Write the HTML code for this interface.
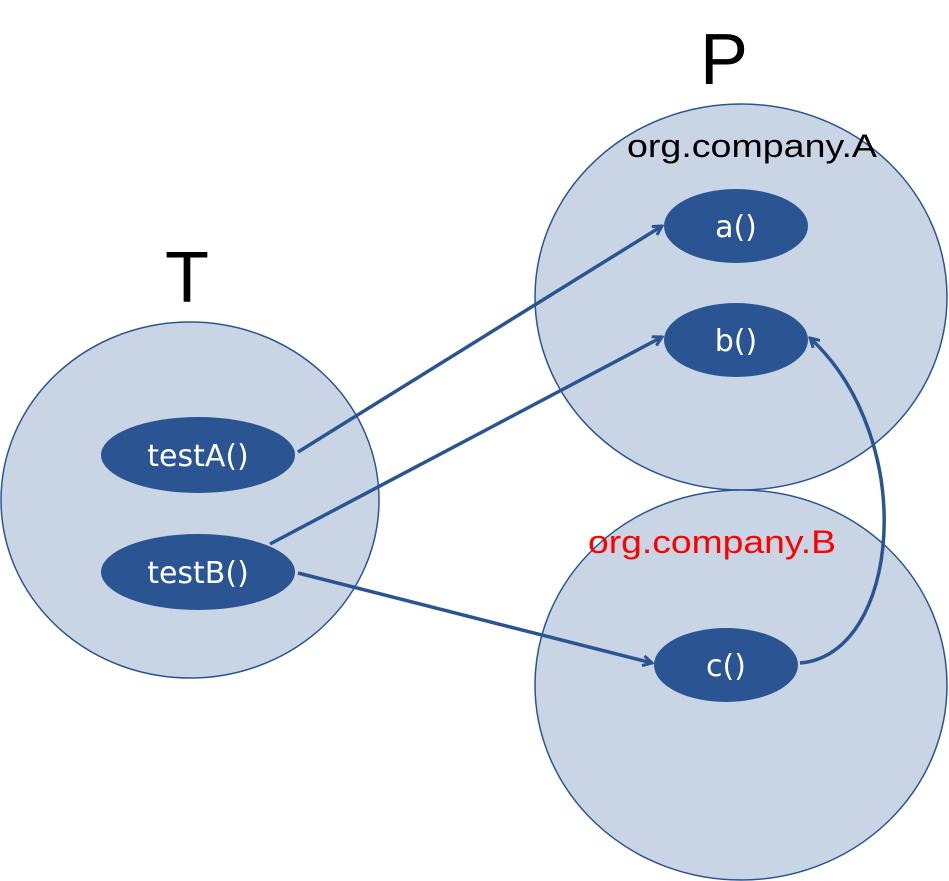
<!DOCTYPE html>
<html><head><meta charset="utf-8"><style>body{margin:0;background:#fff}svg{display:block}</style></head>
<body>
<svg width="949" height="881" viewBox="0 0 949 881" xmlns="http://www.w3.org/2000/svg">
<defs>
<marker id="ar" markerWidth="12" markerHeight="12" refX="10" refY="6" orient="auto" markerUnits="userSpaceOnUse">
<path d="M1,1 L10,6 L1,11" fill="none" stroke="#2a5592" stroke-width="3"/>
</marker>
</defs>
<g fill="#c9d5e4" stroke="#2a5592" stroke-width="1.5">
<ellipse cx="190" cy="500" rx="189" ry="178"/>
<ellipse cx="741" cy="297" rx="206" ry="193"/>
<ellipse cx="741" cy="685" rx="206" ry="195"/>
</g>
<g font-family="Liberation Sans, sans-serif">
<text x="187" y="302" font-size="72" text-anchor="middle">T</text>
<text x="724" y="84" font-size="72" text-anchor="middle">P</text>
<text x="627" y="157" font-size="32" textLength="250" lengthAdjust="spacingAndGlyphs">org.company.A</text>
<text x="588" y="553" font-size="32" fill="#ff0000" textLength="248" lengthAdjust="spacingAndGlyphs">org.company.B</text>
</g>
<g fill="#2a5592">
<ellipse cx="198" cy="455" rx="97" ry="38"/>
<ellipse cx="198" cy="572" rx="97" ry="38"/>
<ellipse cx="736" cy="226" rx="72" ry="37"/>
<ellipse cx="736" cy="340" rx="72" ry="37"/>
<ellipse cx="726" cy="665" rx="72" ry="37"/>
</g>
<g font-family="DejaVu Sans, Liberation Sans, sans-serif" font-size="30" fill="#fff" text-anchor="middle">
<text x="198" y="466">testA()</text>
<text x="198" y="583">testB()</text>
<text x="736" y="237">a()</text>
<text x="736" y="351">b()</text>
<text x="726" y="676">c()</text>
</g>
<g stroke="#2a5592" stroke-width="3.5" fill="none" marker-end="url(#ar)">
<line x1="298" y1="452" x2="662" y2="226"/>
<line x1="270" y1="544" x2="662" y2="337"/>
<line x1="298" y1="573" x2="652" y2="663"/>
<path d="M800,663 C900,655 920,440 810,338"/>
</g>
</svg>
</body></html>
